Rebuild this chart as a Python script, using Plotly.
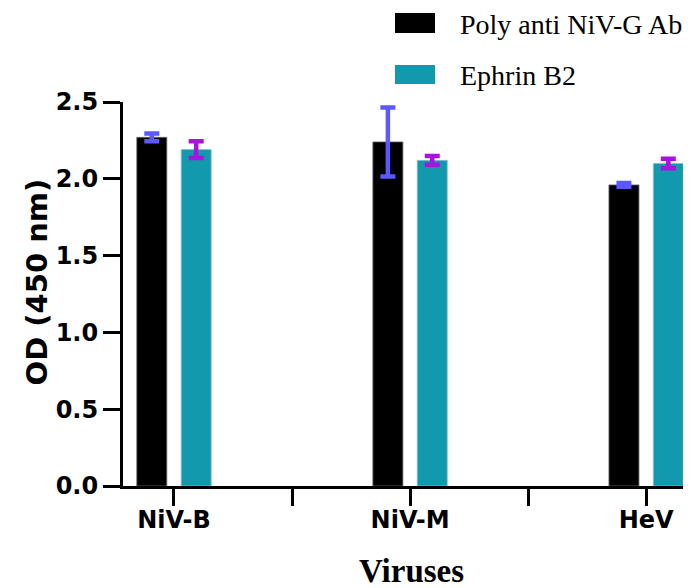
import plotly.graph_objects as go

# ---- data ----
viruses = ["NiV-B", "NiV-M", "HeV"]
series_names = ["Poly anti NiV-G Ab", "Ephrin B2"]
poly_od = [2.27, 2.24, 1.96]
poly_err = [0.025, 0.225, 0.012]
ephrin_od = [2.19, 2.12, 2.10]
ephrin_err = [0.055, 0.028, 0.031]
y_ticks = [0.0, 0.5, 1.0, 1.5, 2.0, 2.5]

# ---- layout geometry (pixels, in the 691x588 window) ----
W, H = 691, 588
OFF = 8  # page body margin offset
L, R, T, B = 123, 0, 102, 102
PW, PH = W - L - R, H - T - B

def px(x):
    return (x - L) / PW

def py(y):
    return (H - B - y) / PH

BLACK = "#000000"
TEAL = "#1399AE"
BLUE = "#5B58FF"
PURPLE = "#AA12E0"
SANS = "DejaVu Sans"
SERIF = "Liberation Serif"

xpos = list(range(len(viruses)))

fig = go.Figure()
fig.add_trace(go.Bar(
    x=xpos, y=poly_od, name=series_names[0],
    marker=dict(color=BLACK, line=dict(color="#666666", width=0.8)),
    error_y=dict(type="data", array=poly_err, visible=True,
                 color=BLUE, thickness=4.5, width=7.5),
))
fig.add_trace(go.Bar(
    x=xpos, y=ephrin_od, name=series_names[1],
    marker=dict(color=TEAL, line=dict(color="#7fc4cf", width=0.8)),
    error_y=dict(type="data", array=ephrin_err, visible=True,
                 color=PURPLE, thickness=4.5, width=7.5),
))

tickvals_x = []
ticktext_x = []
for i, v in enumerate(viruses):
    tickvals_x.append(i)
    ticktext_x.append(v)
    if i < len(viruses) - 1:
        tickvals_x.append(i + 0.5)
        ticktext_x.append("")

fig.update_layout(
    width=W - OFF, height=H - OFF,
    margin=dict(l=L - OFF, r=R, t=T - OFF, b=B, autoexpand=False),
    plot_bgcolor="white", paper_bgcolor="white",
    showlegend=False,
    barmode="group", bargap=0.624, bargroupgap=0.324,
    xaxis=dict(
        range=[-0.216, 2.19], tickmode="array",
        tickvals=tickvals_x, ticktext=ticktext_x,
        showline=True, linecolor="black", linewidth=3,
        ticks="outside", ticklen=17, tickwidth=3, tickcolor="black",
        ticklabelstandoff=-7,
        showgrid=False, zeroline=False,
        tickfont=dict(family=SANS, size=24, color="black", weight="bold"),
    ),
    yaxis=dict(
        range=[0, 2.5], tickmode="array", tickvals=y_ticks,
        tickformat=".1f",
        showline=True, linecolor="black", linewidth=3,
        ticks="outside", ticklen=17, tickwidth=3, tickcolor="black",
        showgrid=False, zeroline=False,
        tickfont=dict(family=SANS, size=24, color="black", weight="bold"),
    ),
)

# axis titles
fig.add_annotation(
    text="OD (450 nm)", xref="paper", yref="paper",
    x=px(36.5), y=py(282), xanchor="center", yanchor="middle",
    textangle=-90, showarrow=False,
    font=dict(family=SANS, size=29, color="black", weight="bold"),
)
fig.add_annotation(
    text="Viruses", xref="paper", yref="paper",
    x=px(411), y=py(571), xanchor="center", yanchor="middle",
    showarrow=False,
    font=dict(family=SERIF, size=33, color="black", weight="bold"),
)

# custom legend
legend_rows = [(series_names[0], BLACK, 13, 33), (series_names[1], TEAL, 65, 84)]
for name, col, y0, y1 in legend_rows:
    fig.add_shape(type="rect", xref="paper", yref="paper",
                  x0=px(395), x1=px(435), y0=py(y1), y1=py(y0),
                  fillcolor=col, line=dict(width=0))
    fig.add_annotation(
        text=name, xref="paper", yref="paper",
        x=px(458), y=py((y0 + y1) / 2 + 1), xanchor="left", yanchor="middle",
        showarrow=False,
        font=dict(family=SERIF, size=28, color="black"),
    )

fig.write_html("out.html")
